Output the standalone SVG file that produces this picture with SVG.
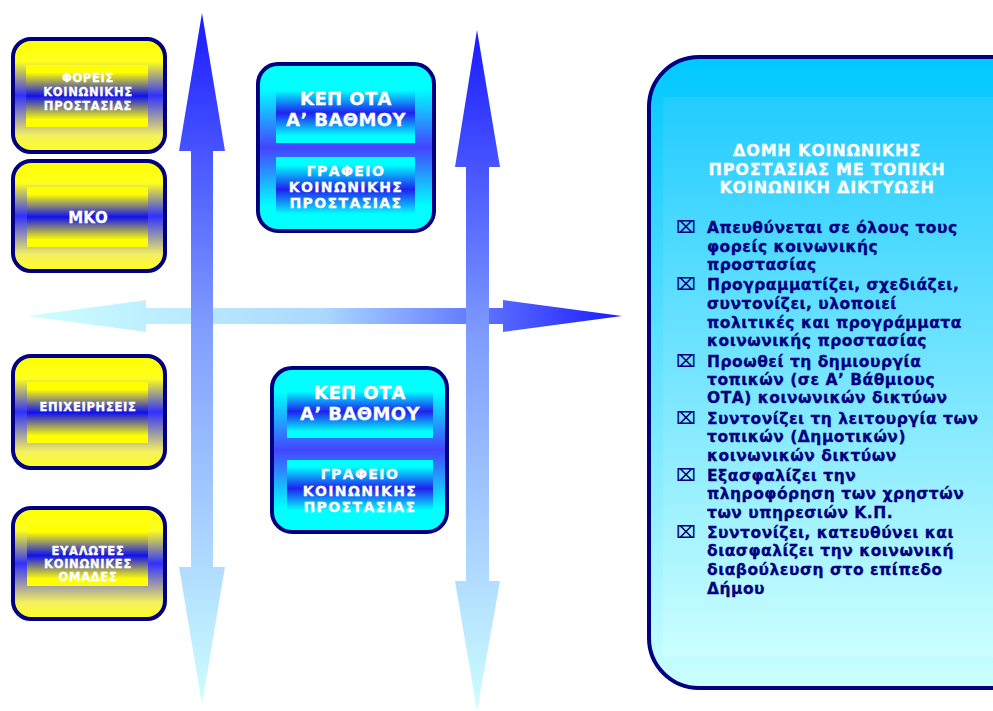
<svg xmlns="http://www.w3.org/2000/svg" width="993" height="711" viewBox="0 0 993 711">
<style>
text{font-family:"DejaVu Sans","Verdana","Liberation Sans",sans-serif;font-weight:bold}
.w{fill:#ffffff;stroke:#ffffff;stroke-width:0.3;text-anchor:middle}
.s{font-size:11.5px;letter-spacing:0.7px}
.k{font-size:18px;letter-spacing:0.4px}
.g{font-size:14px;letter-spacing:1.4px}
.ybox{fill:url(#yOuter);stroke:#000080;stroke-width:4}
.yin{fill:url(#yInner)}
.cbox{fill:url(#cOuter);stroke:#000080;stroke-width:4}
.cin{fill:url(#cInner)}
.li{fill:#000080;stroke:#000080;stroke-width:0.3;font-size:15.5px;letter-spacing:0.5px}
.bul{fill:#000080;font-size:17px}
.t{font-size:16px;letter-spacing:0.8px}
</style>
<defs>
<linearGradient id="yOuter" x1="0" y1="0" x2="0" y2="1">
<stop offset="0" stop-color="#ffff00"/><stop offset="0.2" stop-color="#ffff20"/><stop offset="0.5" stop-color="#3030ff"/><stop offset="0.85" stop-color="#f4f060"/><stop offset="1" stop-color="#ffff20"/>
</linearGradient>
<linearGradient id="yInner" x1="0" y1="0" x2="0" y2="1">
<stop offset="0" stop-color="#ffff00"/><stop offset="0.12" stop-color="#ffff00"/><stop offset="0.5" stop-color="#1010f0"/><stop offset="0.88" stop-color="#ffff00"/><stop offset="1" stop-color="#ffff00"/>
</linearGradient>
<linearGradient id="cOuter" x1="0" y1="0" x2="0" y2="1">
<stop offset="0" stop-color="#00ffff"/><stop offset="0.15" stop-color="#00ffff"/><stop offset="0.5" stop-color="#4444ff"/><stop offset="0.85" stop-color="#00ffff"/><stop offset="1" stop-color="#00ffff"/>
</linearGradient>
<linearGradient id="cInner" x1="0" y1="0" x2="0" y2="1">
<stop offset="0" stop-color="#00ffff"/><stop offset="0.12" stop-color="#00ffff"/><stop offset="0.5" stop-color="#2020f0"/><stop offset="0.88" stop-color="#00ffff"/><stop offset="1" stop-color="#00ffff"/>
</linearGradient>
<linearGradient id="rOuter" x1="0" y1="0" x2="0" y2="1">
<stop offset="0" stop-color="#00c8ff"/><stop offset="1" stop-color="#ccffff"/>
</linearGradient>
<linearGradient id="rInner" x1="0" y1="0" x2="0" y2="1">
<stop offset="0" stop-color="#22ccff"/><stop offset="1" stop-color="#ccffff"/>
</linearGradient>
<linearGradient id="hArrow" gradientUnits="userSpaceOnUse" x1="28" y1="0" x2="622" y2="0">
<stop offset="0" stop-color="#ccffff"/><stop offset="0.5" stop-color="#aad8ff"/><stop offset="1" stop-color="#1a1aff"/>
</linearGradient>
<linearGradient id="vArrow1" gradientUnits="userSpaceOnUse" x1="0" y1="13" x2="0" y2="704">
<stop offset="0" stop-color="#1a1aff"/><stop offset="0.45" stop-color="#7f9cff"/><stop offset="1" stop-color="#ccffff"/>
</linearGradient>
<linearGradient id="vArrow2" gradientUnits="userSpaceOnUse" x1="0" y1="30" x2="0" y2="711">
<stop offset="0" stop-color="#1a1aff"/><stop offset="0.45" stop-color="#7f9cff"/><stop offset="1" stop-color="#ccffff"/>
</linearGradient>
</defs>
<rect width="993" height="711" fill="#ffffff"/>

<g id="connectors">
<polygon fill="url(#hArrow)" points="28,316 146,300 146,308 503,308 503,300 622,316 503,332 503,324 146,324 146,332"/>
<polygon fill="url(#vArrow1)" points="202,13 225,151 213,151 213,567 225,567 202,704 179,567 191,567 191,151 179,151"/>
<polygon fill="url(#vArrow2)" points="477,30 500,167 489,167 489,581 500,581 477,711 455,581 466,581 466,167 455,167"/>
</g>

<g id="foreis">
<rect class="ybox" x="13" y="39" width="152" height="113" rx="18"/>
<rect class="yin" x="26" y="65" width="122" height="62"/>
<text class="w s" x="88" y="82">ΦΟΡΕΙΣ</text>
<text class="w s" x="88" y="96">ΚΟΙΝΩΝΙΚΗΣ</text>
<text class="w s" x="88" y="110">ΠΡΟΣΤΑΣΙΑΣ</text>
</g>

<g id="mko">
<rect class="ybox" x="13" y="161" width="152" height="110" rx="18"/>
<rect class="yin" x="27" y="187" width="121" height="60"/>
<text class="w" font-size="15" x="88" y="223">ΜΚΟ</text>
</g>

<g id="epixeiriseis">
<rect class="ybox" x="13" y="356" width="152" height="112" rx="18"/>
<rect class="yin" x="27" y="382" width="121" height="61"/>
<text class="w s" x="88" y="411">ΕΠΙΧΕΙΡΗΣΕΙΣ</text>
</g>

<g id="evalotes">
<rect class="ybox" x="13" y="508" width="152" height="111" rx="18"/>
<rect class="yin" x="27" y="525" width="121" height="61"/>
<text class="w s" x="88" y="555">ΕΥΑΛΩΤΕΣ</text>
<text class="w s" x="88" y="568">ΚΟΙΝΩΝΙΚΕΣ</text>
<text class="w s" x="88" y="581">ΟΜΑΔΕΣ</text>
</g>

<g id="kep1">
<rect class="cbox" x="258" y="64" width="176" height="167" rx="20"/>
<rect class="cin" x="276" y="83" width="139" height="60"/>
<text class="w k" x="346" y="105">ΚΕΠ ΟΤΑ</text>
<text class="w k" x="346" y="126">Α’ ΒΑΘΜΟΥ</text>
<rect class="cin" x="276" y="157" width="139" height="65"/>
<text class="w g" x="346" y="176">ΓΡΑΦΕΙΟ</text>
<text class="w g" x="346" y="192">ΚΟΙΝΩΝΙΚΗΣ</text>
<text class="w g" x="346" y="208">ΠΡΟΣΤΑΣΙΑΣ</text>
</g>

<g id="kep2">
<rect class="cbox" x="272" y="368" width="175" height="164" rx="20"/>
<rect class="cin" x="287" y="385" width="146" height="53"/>
<text class="w k" x="360" y="399">ΚΕΠ ΟΤΑ</text>
<text class="w k" x="360" y="420">Α’ ΒΑΘΜΟΥ</text>
<rect class="cin" x="287" y="460" width="146" height="57"/>
<text class="w g" x="360" y="479">ΓΡΑΦΕΙΟ</text>
<text class="w g" x="360" y="496">ΚΟΙΝΩΝΙΚΗΣ</text>
<text class="w g" x="360" y="512">ΠΡΟΣΤΑΣΙΑΣ</text>
</g>

<g id="domi">
<rect x="649" y="57" width="400" height="631" rx="50" fill="url(#rOuter)" stroke="#000080" stroke-width="4"/>
<rect x="663" y="97" width="340" height="560" fill="url(#rInner)"/>
<text class="w t" x="827" y="156">ΔΟΜΗ ΚΟΙΝΩΝΙΚΗΣ</text>
<text class="w t" x="827" y="175">ΠΡΟΣΤΑΣΙΑΣ ΜΕ ΤΟΠΙΚΗ</text>
<text class="w t" x="827" y="193">ΚΟΙΝΩΝΙΚΗ ΔΙΚΤΥΩΣΗ</text>

<text class="bul" x="676" y="233">⌧</text>
<text class="li" x="707" y="233">Απευθύνεται σε όλους τους</text>
<text class="li" x="707" y="252">φορείς κοινωνικής</text>
<text class="li" x="707" y="270">προστασίας</text>

<text class="bul" x="676" y="290">⌧</text>
<text class="li" x="707" y="290">Προγραμματίζει, σχεδιάζει,</text>
<text class="li" x="707" y="309">συντονίζει, υλοποιεί</text>
<text class="li" x="707" y="328">πολιτικές και προγράμματα</text>
<text class="li" x="707" y="346">κοινωνικής προστασίας</text>

<text class="bul" x="676" y="367">⌧</text>
<text class="li" x="707" y="367">Προωθεί τη δημιουργία</text>
<text class="li" x="707" y="385">τοπικών (σε Α’ Βάθμιους</text>
<text class="li" x="707" y="403">ΟΤΑ) κοινωνικών δικτύων</text>

<text class="bul" x="676" y="424">⌧</text>
<text class="li" x="707" y="424">Συντονίζει τη λειτουργία των</text>
<text class="li" x="707" y="442">τοπικών (Δημοτικών)</text>
<text class="li" x="707" y="461">κοινωνικών δικτύων</text>

<text class="bul" x="676" y="481">⌧</text>
<text class="li" x="707" y="481">Εξασφαλίζει την</text>
<text class="li" x="707" y="499">πληροφόρηση των χρηστών</text>
<text class="li" x="707" y="518">των υπηρεσιών Κ.Π.</text>

<text class="bul" x="676" y="538">⌧</text>
<text class="li" x="707" y="538">Συντονίζει, κατευθύνει και</text>
<text class="li" x="707" y="556">διασφαλίζει την κοινωνική</text>
<text class="li" x="707" y="575">διαβούλευση στο επίπεδο</text>
<text class="li" x="707" y="594">Δήμου</text>
</g>
</svg>
